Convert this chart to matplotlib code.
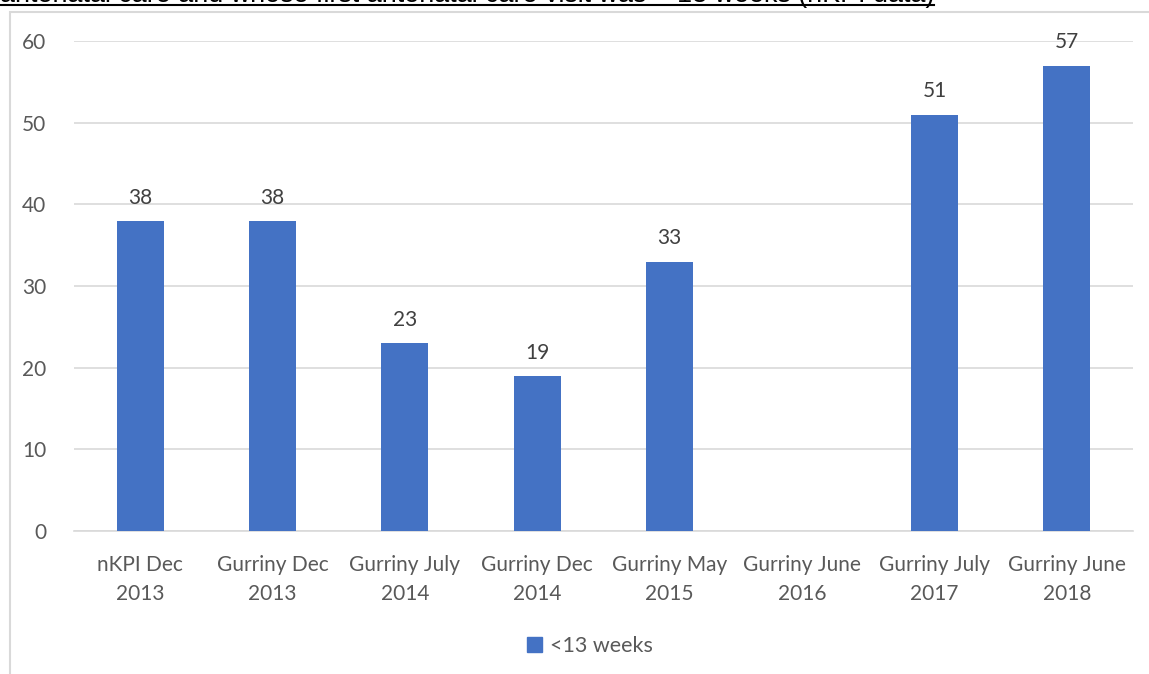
import matplotlib
matplotlib.use("Agg")
import matplotlib.pyplot as plt
from matplotlib.patches import Rectangle
from matplotlib.lines import Line2D

categories = ["nKPI Dec\n2013", "Gurriny Dec\n2013", "Gurriny July\n2014", "Gurriny Dec\n2014",
              "Gurriny May\n2015", "Gurriny June\n2016", "Gurriny July\n2017", "Gurriny June\n2018"]
values = [38, 38, 23, 19, 33, None, 51, 57]
series_name = "<13 weeks"
yticks = [0, 10, 20, 30, 40, 50, 60]
title = "antenatal care and whose first antenatal care visit was < 13 weeks (nKPI data)"

W, H = 1149, 674
fig = plt.figure(figsize=(W/100, H/100), dpi=100)
font = "Lato"
tc = "#595959"
bar_color = "#4472C4"
fs = 15

# chart frame
fig.add_artist(Rectangle((10/W, -0.01), 1.2, 1 - 12/H + 0.01, transform=fig.transFigure,
                         fill=False, edgecolor="#d9d9d9", linewidth=1.5))

ax = fig.add_axes([74/W, 1 - 531/H, (1133-74)/W, (531-41)/H])
x = list(range(len(categories)))
hv = [v if v is not None else 0 for v in values]
bars = ax.bar(x, hv, width=0.355, color=bar_color, zorder=3)
for xi, v in zip(x, values):
    if v is not None:
        ax.text(xi, v + 1.6, str(v), ha="center", va="bottom", fontsize=fs,
                color="#404040", family=font)
ax.set_xlim(-0.5, len(categories) - 0.5)
ax.set_ylim(0, 60)
ax.set_yticks(yticks)
ax.set_yticklabels([str(t) for t in yticks], fontsize=fs, color=tc, family=font)
ax.set_xticks(x)
ax.set_xticklabels(categories, fontsize=fs, color=tc, family=font, linespacing=1.6)
ax.tick_params(axis="both", length=0)
ax.tick_params(axis="x", pad=17)
ax.tick_params(axis="y", pad=20)
ax.grid(axis="y", color="#d9d9d9", linewidth=1.2, zorder=0)
for s in ["top", "right", "left"]:
    ax.spines[s].set_visible(False)
ax.spines["bottom"].set_color("#d9d9d9")
ax.spines["bottom"].set_linewidth(1.2)

# legend
handle = Rectangle((0, 0), 1, 1, color=bar_color)
fig.legend([handle], [series_name], loc="center", bbox_to_anchor=(590/W, 1 - 646/H),
           frameon=False, prop={"family": font, "size": 15.5}, labelcolor=tc,
           handlelength=0.7, handleheight=0.7, handletextpad=0.35)

# cropped title line at the top
fig.text(0.0, 1 - 2/H, title, ha="left", va="baseline", fontsize=19.4,
         family="Liberation Sans", color="black")
fig.add_artist(Line2D([0, 934/W], [1 - 5/H, 1 - 5/H], transform=fig.transFigure,
                      color="black", linewidth=1.5))

fig.savefig("out.png", dpi=100)
